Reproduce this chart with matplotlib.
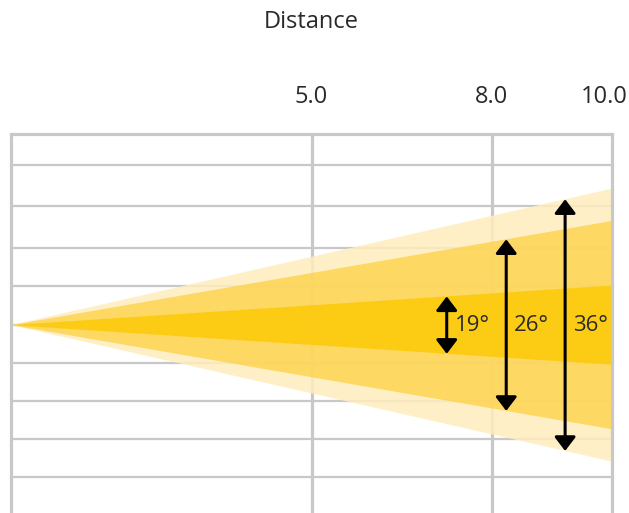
import matplotlib
matplotlib.use("Agg")
import matplotlib.pyplot as plt
from matplotlib.transforms import ScaledTranslation

plt.rcParams['font.family'] = ['Open Sans', 'DejaVu Sans']

# ---- data ----
beam_angles = [36, 26, 19]                  # degrees
beam_half_width_at_10 = [3.5, 2.67, 1.015]  # half spread at distance 10 (grid units)
arrow_distance = [9.22, 8.24, 7.25]         # where each angle marker is drawn
max_distance = 10.0
x_ticks = [5.0, 8.0, 10.0]
x_tick_labels = ["5.0", "8.0", "10.0"]
y_grid = [4.10, 3.06, 1.98, 1.01, 0, -0.98, -1.95, -2.93, -3.89]
x_label = "Distance"

beam_colors = ["#FFEDBE", "#FDD452", "#FCCA08"]
grid_color = "#C8C8C8"
text_color = "#2A2A2A"

fig = plt.figure(figsize=(6.29, 5.13), dpi=100)
W, H = 629, 513
left, right, top = 11, 612, 134
ylim = (-4.9, 4.9)
ax_h = 2 * 4.9 * 39
ax = fig.add_axes([left / W, 1 - (top + ax_h) / H, (right - left) / W, ax_h / H])
ax.set_xlim(0, max_distance)
ax.set_ylim(*ylim)

# grid
for yv in y_grid:
    ax.axhline(yv, color=grid_color, lw=1.6, zorder=0)
for xv in x_ticks[:-1]:
    ax.axvline(xv, color=grid_color, lw=2.3, zorder=0)

# cones
for hw, col in zip(beam_half_width_at_10, beam_colors):
    ax.fill([0, max_distance, max_distance], [0, hw, -hw], color=col,
            alpha=0.85, lw=0, zorder=1)

# arrows and labels
for ang, hw, xd in zip(beam_angles, beam_half_width_at_10, arrow_distance):
    h = hw * xd / max_distance
    ax.annotate("", xy=(xd, h), xytext=(xd, -h),
                arrowprops=dict(arrowstyle="<|-|>,head_length=0.42,head_width=0.32",
                                color="black", lw=2.2, shrinkA=0, shrinkB=0,
                                mutation_scale=20),
                zorder=3)
    t = ax.text(xd, 0, f"{ang}°", ha="left", va="center", fontsize=16,
                color=text_color, zorder=3)
    t.set_transform(ax.transData + ScaledTranslation(8 / 100, 0, fig.dpi_scale_trans))

for s in ["left", "right", "top", "bottom"]:
    ax.spines[s].set_color(grid_color)
    ax.spines[s].set_linewidth(2.3)

ax.xaxis.tick_top()
ax.set_xticks(x_ticks)
ax.set_xticklabels(x_tick_labels)
ax.tick_params(axis="x", length=0, pad=18, labelsize=17, labelcolor=text_color)
ax.set_yticks([])
lbls = ax.get_xticklabels()
lbls[-1].set_transform(lbls[-1].get_transform() +
                       ScaledTranslation(-8 / 100, 0, fig.dpi_scale_trans))

fig.text((left + right) / 2 / W, 1 - 21.7 / H, x_label, ha="center", va="center",
         fontsize=17, color=text_color)

fig.savefig("out.png", dpi=100)
